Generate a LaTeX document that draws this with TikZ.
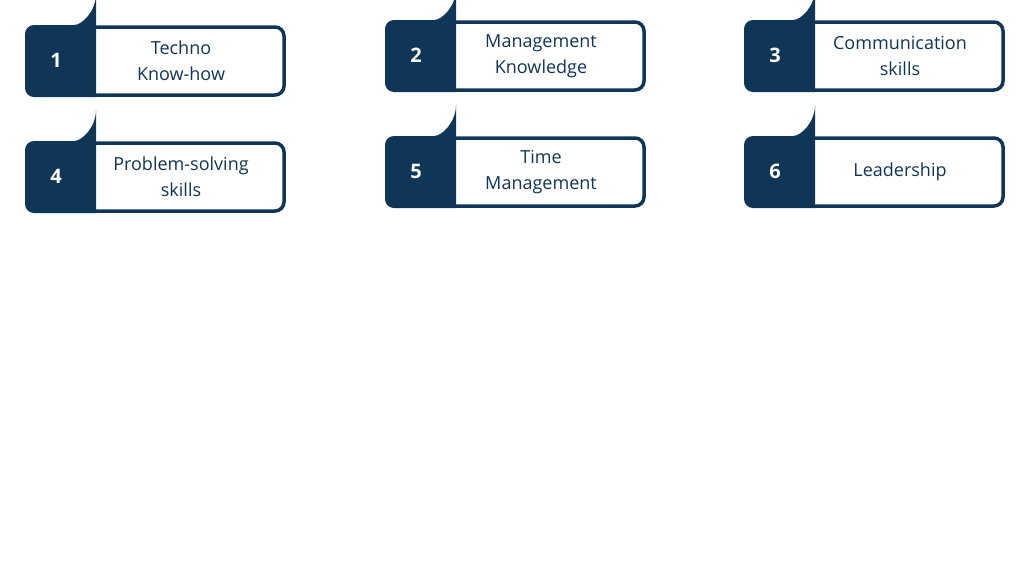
\documentclass[tikz,border=0pt]{standalone}
\usepackage{fontspec}
\setmainfont{Open Sans}
\usetikzlibrary{positioning}
\definecolor{navy}{HTML}{0F3557}

\begin{document}
\begin{tikzpicture}[x=1pt,y=-1pt,
        card/.style={draw=navy,line width=3.5pt,rounded corners=9pt,
            minimum width=257pt,minimum height=68pt,inner sep=0pt},
        num/.style={text=white,font=\fontsize{20}{24}\selectfont\bfseries},
        label/.style={text=navy,align=center,font=\fontsize{18}{26}\selectfont}]
    \useasboundingbox (0,0) rectangle (1024,576);
    \foreach \i/\x/\y/\txt in {1/25/25/{Techno\\Know-how},
                               2/385/20/{Management\\Knowledge},
                               3/744/20/{Communication\\skills},
                               4/25/141/{Problem-solving\\skills},
                               5/385/136/{Time\\Management},
                               6/744/136/{Leadership}}
    {
        \fill[navy,rounded corners=9pt] (\x,\y+72) -- (\x,\y)
            -- (\x+40,\y) [sharp corners] arc[start angle=90,end angle=0,radius=31]
            -- (\x+71,\y+72) [rounded corners=9pt] -- cycle;
        \node[card] (card\i) at (\x+130.5,\y+36) {};
        \node[num] (num\i) at (\x+31,\y+35) {\i};
        \node[label] (label\i) at (\x+156,\y+36) {\txt};
    }
\end{tikzpicture}
\end{document}
